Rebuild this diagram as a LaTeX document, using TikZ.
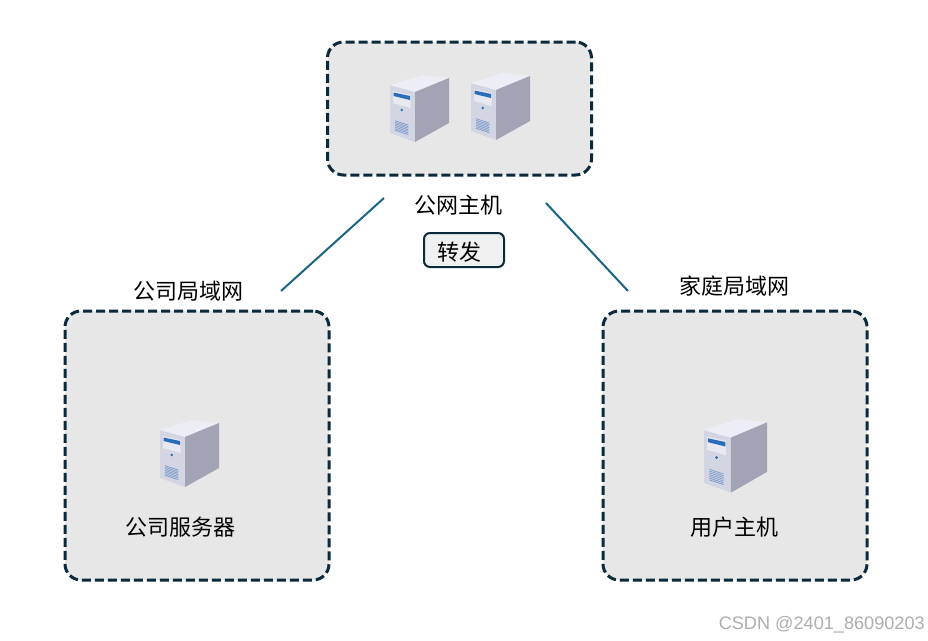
\documentclass[tikz,border=0pt]{standalone}
\usepackage{fontspec}
\newfontfamily\cjk{Noto Sans CJK SC}
\newfontfamily\wm{Liberation Sans}
\definecolor{boxline}{HTML}{0B2A3C}
\definecolor{boxfill}{HTML}{E7E7E7}
\definecolor{linkc}{HTML}{1A6585}
\definecolor{sfront}{HTML}{D4D5E3}
\definecolor{sside}{HTML}{A2A3B5}
\definecolor{stop}{HTML}{ECEDF5}
\definecolor{sblue}{HTML}{2A6CB8}
\definecolor{svent}{HTML}{7C9CCB}
\newlength{\pxu}\setlength{\pxu}{0.75pt}
\tikzset{
  x=0.75pt,y=-0.75pt,
  zone/.style={draw=boxline,fill=boxfill,line width=3\pxu,rounded corners=16\pxu,
    dash pattern=on 9\pxu off 4\pxu,minimum width=#1,inner sep=0pt,outer sep=0pt},
  tag/.style={font=\cjk\fontsize{16.5pt}{19pt}\selectfont,text=black,inner sep=0pt},
  chip/.style={tag,draw=boxline,fill=black!6,line width=2\pxu,rounded corners=6\pxu,
    minimum width=80\pxu,minimum height=34\pxu},
  link/.style={draw=linkc,line width=2\pxu},
  pics/server/.style={code={
    \fill[sfront] (0,10)--(25,17)--(25,67)--(0,58)--cycle;
    \fill[stop] (0,10)--(32,0)--(59,3)--(25,17)--cycle;
    \fill[sside] (25,17)--(59,3)--(59,48)--(25,67)--cycle;
    \fill[white!45!sfront] (3,16)--(20.5,20)--(20.5,33)--(3,28)--cycle;
    \fill[sblue] (3.5,17.5)--(20,21)--(20,25)--(3.5,21)--cycle;
    \fill[sblue] (11.7,35) circle[radius=1.4];
    \foreach \k in {0,1.6,...,11}{
      \draw[svent,line width=0.55pt] (5,45.7+\k)--(18.3,50+\k);
    }
  }}
}
\begin{document}
\begin{tikzpicture}
\useasboundingbox (0,0) rectangle (928,640);
\fill[white] (0,0) rectangle (928,640);
\node[zone=264\pxu,minimum height=133\pxu] (top) at (459.5,108.5) {};
\node[zone=264\pxu,minimum height=269\pxu] (left) at (197,445.5) {};
\node[zone=264\pxu,minimum height=269\pxu] (right) at (735,445.5) {};
\pic at (390,75) {server};
\pic at (471,73) {server};
\pic at (160,420) {server};
\pic[transform shape,xscale=1.07,yscale=1.1] at (704,419) {server};
\node[tag] (pub) at (458.5,205) {公网主机};
\node[chip] (relay) at (464,250) {};
\node[tag] (relaytext) at (459,252) {转发};
\node[tag] (corpnet) at (188,291) {公司局域网};
\node[tag] (homenet) at (734,286) {家庭局域网};
\node[tag] (corpsrv) at (180,527) {公司服务器};
\node[tag] (userhost) at (734,527) {用户主机};
\coordinate (la) at (384,198);
\coordinate (lb) at (281,291);
\coordinate (ra) at (546,203);
\coordinate (rb) at (628,291);
\draw[link] (la) -- (lb);
\draw[link] (ra) -- (rb);
\node[font=\wm\fontsize{13.6pt}{16pt}\selectfont,text=black!32,anchor=east,inner sep=0pt] (mark) at (925,625) {CSDN @2401\_86090203};
\end{tikzpicture}
\end{document}
